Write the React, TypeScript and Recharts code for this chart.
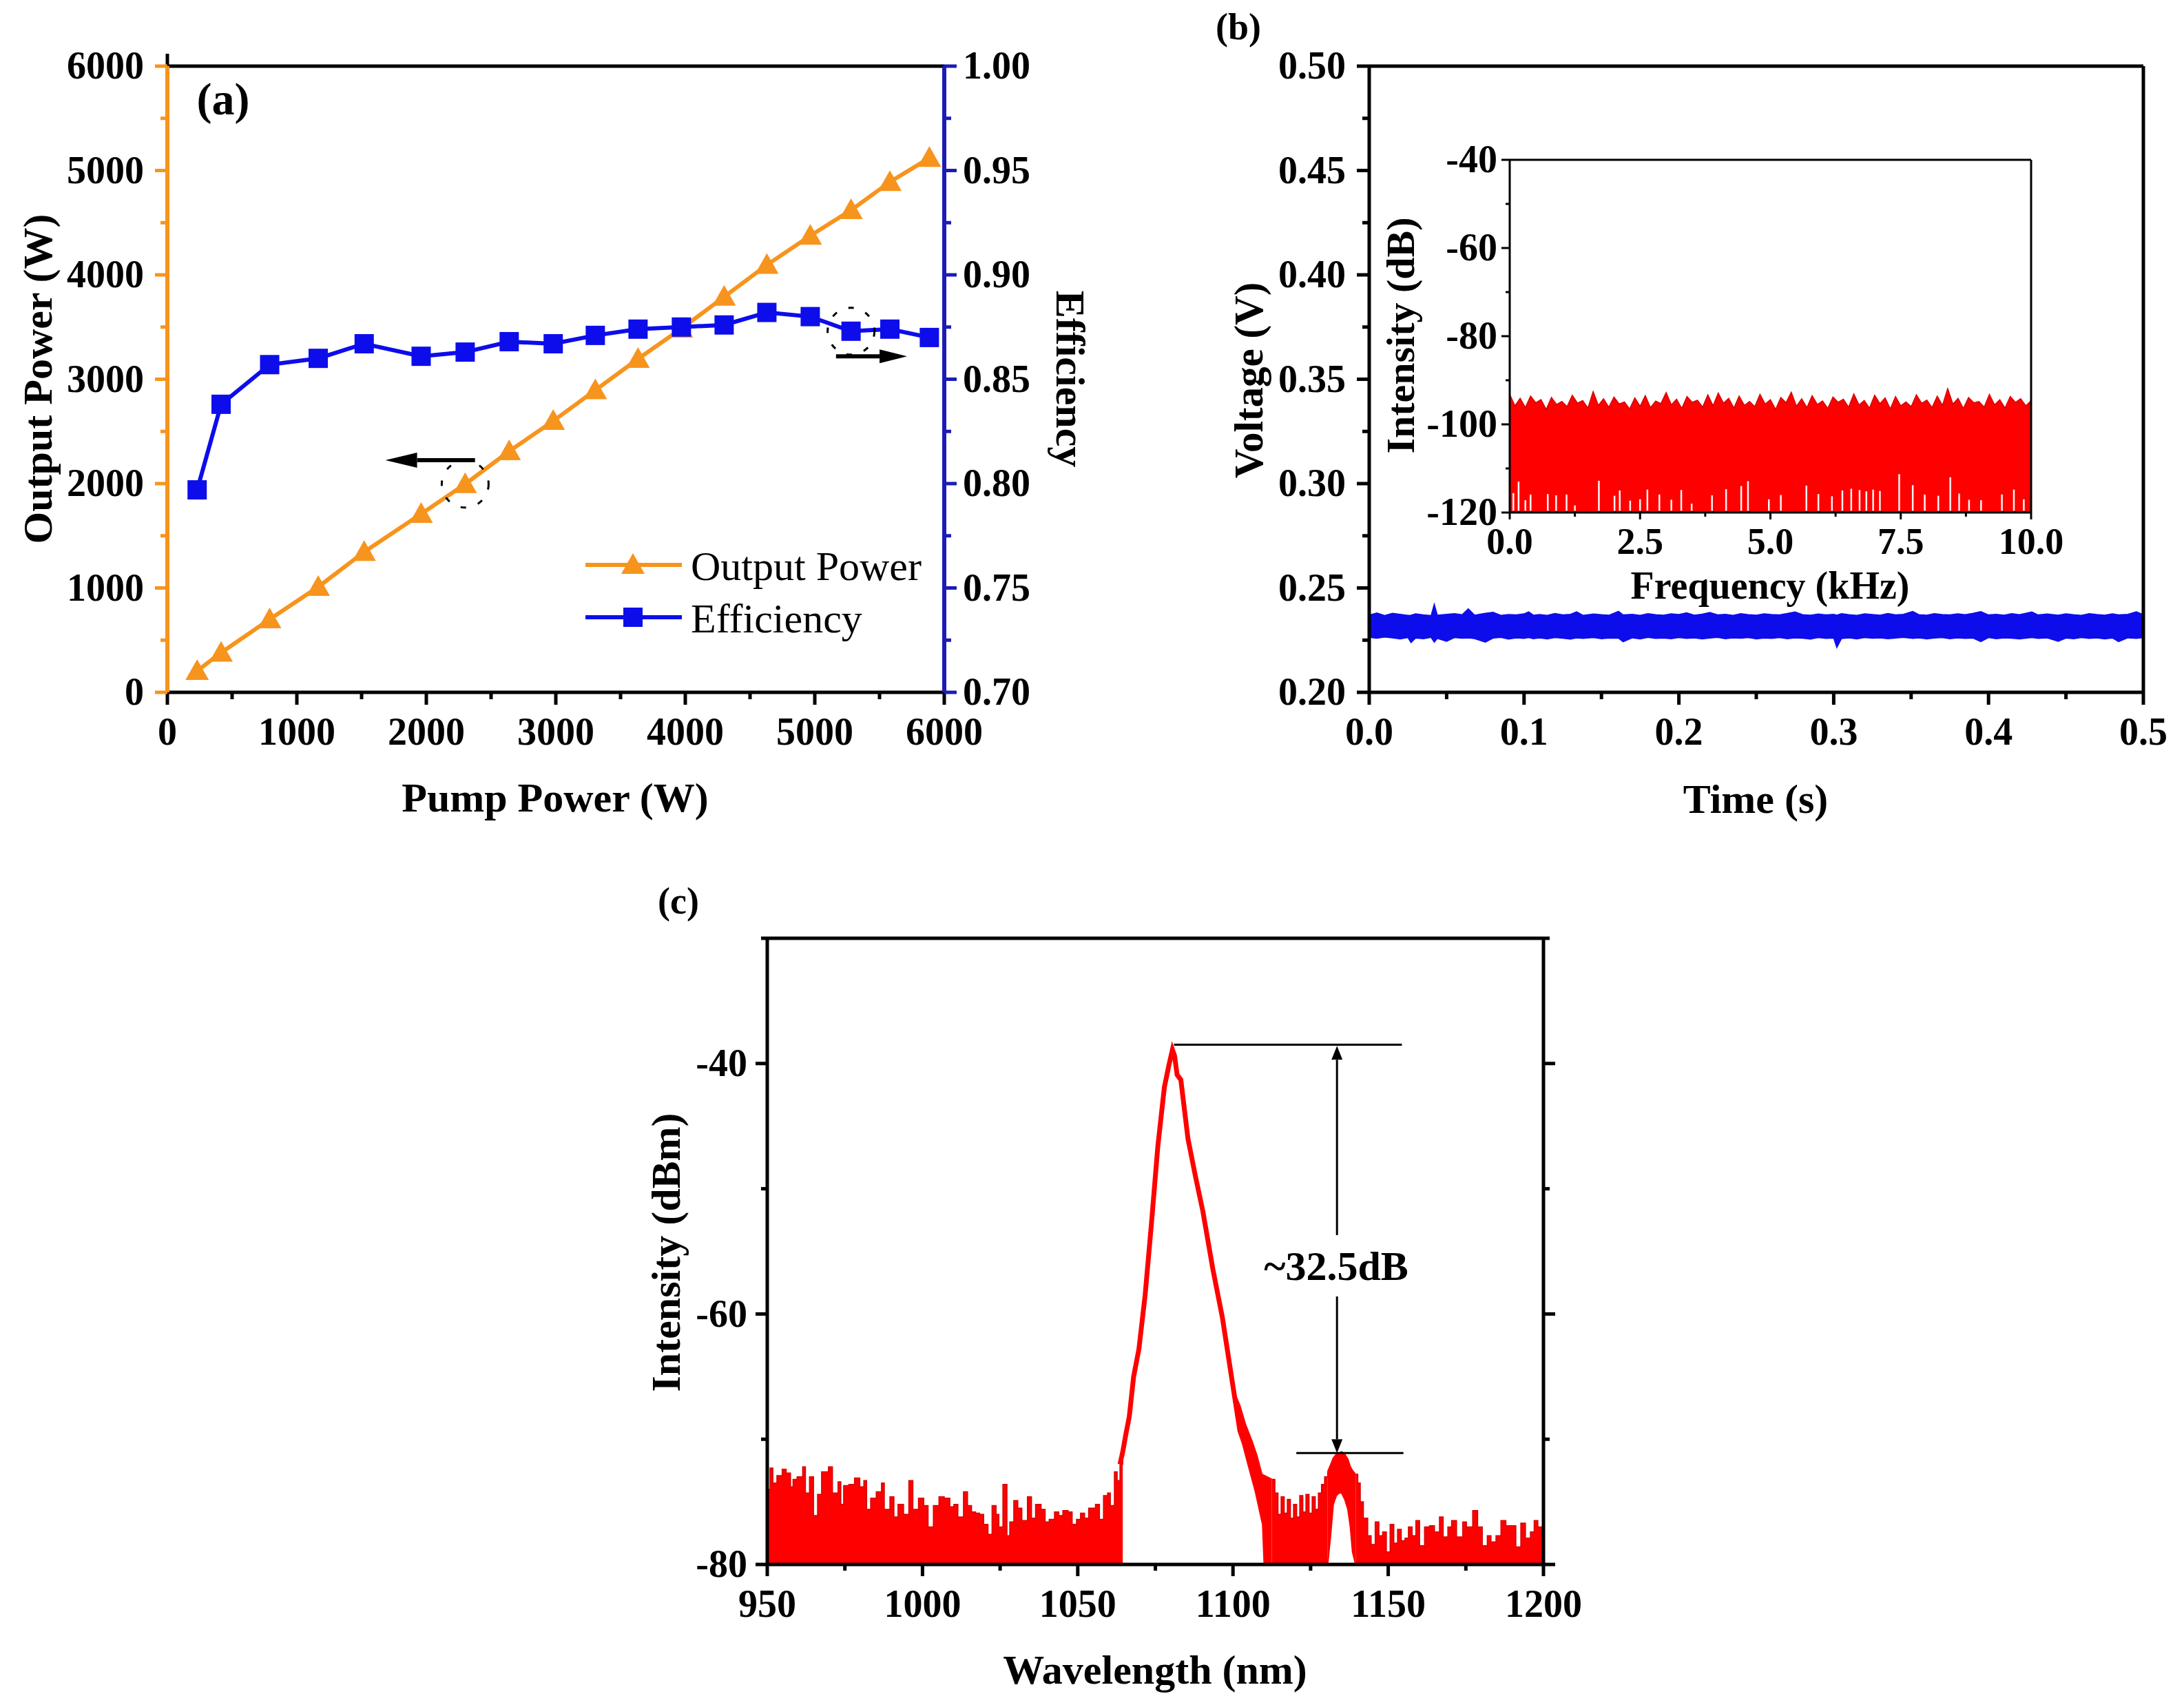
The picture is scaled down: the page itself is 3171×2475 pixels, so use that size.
import React from 'react';
import { ComposedChart, Line, Area, XAxis, YAxis, ReferenceLine, ReferenceDot, Legend } from 'recharts';

const FONT = "'Liberation Serif', 'Times New Roman', Times, serif";
const ORANGE = '#F7941D';
const BLUE = '#0D0DEB';
const AXIS_BLUE = '#1C1CB4';
const RED = '#FF0000';
const TICK_FS = 56;

// ---------------- Panel (a) ----------------
const pumpPower = [230, 415, 790, 1165, 1520, 1960, 2300, 2640, 2980, 3305, 3635, 3970, 4300, 4630, 4965, 5280, 5580, 5885];
const outputPower = [205, 380, 700, 1010, 1345, 1710, 1995, 2310, 2600, 2895, 3195, 3485, 3790, 4095, 4375, 4620, 4890, 5120];
const efficiency = [0.797, 0.838, 0.857, 0.86, 0.867, 0.861, 0.863, 0.868, 0.867, 0.871, 0.874, 0.875, 0.876, 0.882, 0.88, 0.873, 0.874, 0.87];
const pumpTicks = [0, 500, 1000, 1500, 2000, 2500, 3000, 3500, 4000, 4500, 5000, 5500, 6000];
const outputTicks = [0, 500, 1000, 1500, 2000, 2500, 3000, 3500, 4000, 4500, 5000, 5500, 6000];
const effTicks = [0.7, 0.725, 0.75, 0.775, 0.8, 0.825, 0.85, 0.875, 0.9, 0.925, 0.95, 0.975, 1.0];
const leftArrowPump = [2376, 1684];
const leftArrowOutput = 2224;
const rightArrowPump = [5164, 5713];
const rightArrowEff = 0.861;

// ---------------- Panel (b) ----------------
const bandTime = [0, 0.005, 0.01, 0.015, 0.02, 0.025, 0.027, 0.03, 0.035, 0.04,
  0.042, 0.044, 0.05, 0.055, 0.06, 0.064, 0.068, 0.075, 0.08, 0.085,
  0.09, 0.095, 0.1, 0.103, 0.106, 0.11, 0.115, 0.12, 0.125, 0.13,
  0.134, 0.138, 0.145, 0.15, 0.155, 0.161, 0.164, 0.17, 0.175, 0.18,
  0.185, 0.19, 0.195, 0.2, 0.205, 0.21, 0.215, 0.22, 0.225, 0.23,
  0.235, 0.24, 0.245, 0.25, 0.255, 0.26, 0.265, 0.27, 0.275, 0.28,
  0.285, 0.29, 0.295, 0.3, 0.302, 0.305, 0.31, 0.315, 0.32, 0.325,
  0.33, 0.335, 0.34, 0.345, 0.351, 0.355, 0.36, 0.365, 0.37, 0.375,
  0.38, 0.385, 0.39, 0.395, 0.4, 0.405, 0.41, 0.415, 0.42, 0.428,
  0.432, 0.438, 0.445, 0.45, 0.455, 0.46, 0.465, 0.47, 0.475, 0.48,
  0.484, 0.49, 0.4955, 0.5];
const bandLow = [0.2263, 0.2259, 0.2265, 0.2261, 0.2256, 0.2262, 0.2238, 0.2260, 0.2257, 0.2263,
  0.2240, 0.2258, 0.2244, 0.2262, 0.2259, 0.2261, 0.2257, 0.2240, 0.2260, 0.2263,
  0.2255, 0.2261, 0.2258, 0.2262, 0.2257, 0.2261, 0.2256, 0.2262, 0.2259, 0.2255,
  0.2261, 0.2258, 0.2262, 0.2257, 0.2260, 0.2259, 0.2242, 0.2261, 0.2256, 0.2263,
  0.2258, 0.2260, 0.2257, 0.2262, 0.2258, 0.2261, 0.2256, 0.2260, 0.2263, 0.2257,
  0.2261, 0.2259, 0.2262, 0.2256, 0.2260, 0.2258, 0.2262, 0.2257, 0.2261, 0.2259,
  0.2255, 0.2262, 0.2258, 0.2260, 0.2214, 0.2257, 0.2261, 0.2256, 0.2262, 0.2259,
  0.2261, 0.2257, 0.2260, 0.2263, 0.2258, 0.2261, 0.2256, 0.2260, 0.2262, 0.2257,
  0.2261, 0.2258, 0.2260, 0.2243, 0.2262, 0.2257, 0.2261, 0.2259, 0.2256, 0.2262,
  0.2258, 0.2261, 0.2244, 0.2260, 0.2257, 0.2262, 0.2258, 0.2261, 0.2256, 0.2260,
  0.2243, 0.2261, 0.2258, 0.2262];
const bandHigh = [0.2370, 0.2380, 0.2368, 0.2379, 0.2374, 0.2369, 0.2370, 0.2376, 0.2371, 0.2368,
  0.2422, 0.2370, 0.2374, 0.2377, 0.2372, 0.2400, 0.2370, 0.2379, 0.2384, 0.2369,
  0.2373, 0.2371, 0.2376, 0.2386, 0.2370, 0.2373, 0.2369, 0.2378, 0.2371, 0.2374,
  0.2386, 0.2369, 0.2375, 0.2372, 0.2370, 0.2388, 0.2371, 0.2374, 0.2369, 0.2377,
  0.2372, 0.2370, 0.2376, 0.2373, 0.2381, 0.2370, 0.2375, 0.2383, 0.2371, 0.2374,
  0.2369, 0.2377, 0.2372, 0.2370, 0.2376, 0.2373, 0.2371, 0.2378, 0.2385, 0.2372,
  0.2370, 0.2375, 0.2371, 0.2374, 0.2370, 0.2377, 0.2372, 0.2369, 0.2376, 0.2373,
  0.2370, 0.2378, 0.2371, 0.2374, 0.2388, 0.2372, 0.2370, 0.2377, 0.2373, 0.2371,
  0.2376, 0.2372, 0.2379, 0.2387, 0.2371, 0.2374, 0.2370, 0.2377, 0.2372, 0.2385,
  0.2371, 0.2375, 0.2370, 0.2376, 0.2372, 0.2369, 0.2377, 0.2373, 0.2370, 0.2376,
  0.2371, 0.2374, 0.2386, 0.2372];
const timeTicks = [0, 0.05, 0.1, 0.15, 0.2, 0.25, 0.3, 0.35, 0.4, 0.45, 0.5];
const voltTicks = [0.2, 0.225, 0.25, 0.275, 0.3, 0.325, 0.35, 0.375, 0.4, 0.425, 0.45, 0.475, 0.5];

// inset
const insetFreq = [0, 0.1, 0.2, 0.3, 0.4, 0.5, 0.6, 0.7, 0.8, 0.9,
  1, 1.1, 1.2, 1.3, 1.4, 1.5, 1.6, 1.7, 1.8, 1.9,
  2, 2.1, 2.2, 2.3, 2.4, 2.5, 2.6, 2.7, 2.8, 2.9,
  3, 3.1, 3.2, 3.3, 3.4, 3.5, 3.6, 3.7, 3.8, 3.9,
  4, 4.1, 4.2, 4.3, 4.4, 4.5, 4.6, 4.7, 4.8, 4.9,
  5, 5.1, 5.2, 5.3, 5.4, 5.5, 5.6, 5.7, 5.8, 5.9,
  6, 6.1, 6.2, 6.3, 6.4, 6.5, 6.6, 6.7, 6.8, 6.9,
  7, 7.1, 7.2, 7.3, 7.4, 7.5, 7.6, 7.7, 7.8, 7.9,
  8, 8.1, 8.2, 8.3, 8.4, 8.5, 8.6, 8.7, 8.8, 8.9,
  9, 9.1, 9.2, 9.3, 9.4, 9.5, 9.6, 9.7, 9.8, 9.9, 10];
const insetTop = [-93.2, -95.8, -94.1, -96.2, -93.6, -95.1, -94.4, -96.6, -93.9, -95.5,
  -94.8, -96.0, -93.4, -95.2, -94.6, -96.3, -92.6, -95.7, -94.2, -96.1,
  -93.8, -95.4, -94.9, -96.5, -94.0, -95.9, -93.5, -96.2, -94.7, -95.3,
  -92.8, -95.6, -94.3, -96.4, -93.7, -95.0, -94.5, -96.1, -93.3, -95.8,
  -92.9, -95.2, -94.1, -96.3, -93.6, -95.7, -94.8, -96.0, -93.2, -95.4,
  -94.4, -96.6, -93.9, -95.1, -92.7, -95.9, -94.2, -96.2, -93.5, -95.5,
  -94.7, -96.4, -93.8, -95.0, -94.3, -96.1, -93.1, -95.6, -94.6, -96.3,
  -93.4, -95.3, -94.0, -96.5, -93.7, -95.8, -94.9, -96.0, -93.3, -95.2,
  -94.5, -96.2, -93.6, -95.7, -91.9, -95.4, -94.1, -96.4, -93.9, -95.1,
  -94.8, -96.1, -93.2, -95.6, -94.4, -96.3, -93.7, -95.0, -94.2, -95.8, -94.6];
const dipFreq = [0.07, 0.17, 0.30, 0.40, 0.73, 0.89, 1.09, 1.25, 1.71, 2.01,
  2.11, 2.31, 2.50, 2.64, 2.87, 3.10, 3.29, 3.49, 3.88, 4.15,
  4.44, 4.57, 4.97, 5.20, 5.69, 5.92, 6.18, 6.38, 6.55, 6.71,
  6.84, 6.97, 7.10, 7.47, 7.73, 7.96, 8.22, 8.45, 8.62, 8.81,
  9.04, 9.44, 9.67, 9.86];
const dipLevel = [-115.6, -113.0, -117.2, -115.9, -115.8, -116.1, -115.9, -118.4, -112.8, -116.2,
  -115.0, -117.3, -117.0, -114.8, -115.9, -117.1, -114.9, -118.0, -116.1, -114.7,
  -114.0, -112.9, -117.0, -116.0, -113.9, -115.8, -116.3, -115.0, -114.6, -114.9,
  -115.2, -114.8, -115.1, -111.3, -113.8, -115.9, -116.2, -112.0, -115.7, -117.1,
  -117.2, -115.9, -114.8, -117.0];
const freqTicks = [0, 1.25, 2.5, 3.75, 5, 6.25, 7.5, 8.75, 10];
const dbTicks = [-120, -110, -100, -90, -80, -70, -60, -50, -40];

// ---------------- Panel (c) ----------------
const noise1Wl = [950, 950.9, 951.8, 953.1, 954.8, 956.1, 957.5, 958.3, 959.6, 961.4,
  962.3, 963.6, 964.9, 966.2, 967.5, 969.7, 971.0, 972.8, 973.7, 974.6,
  976.3, 978.1, 979.8, 981.1, 982.0, 983.3, 985.1, 986.8, 987.7, 989.5,
  990.8, 992.1, 993.9, 995.6, 996.9, 998.7, 1000.4, 1001.8, 1003.5, 1005.3,
  1007.0, 1008.8, 1010.1, 1011.4, 1013.2, 1014.5, 1015.8, 1017.1, 1018.4, 1019.7,
  1021.1, 1022.4, 1023.7, 1024.6, 1025.9, 1027.2, 1028.1, 1029.4, 1030.7, 1032.0,
  1033.8, 1035.1, 1036.4, 1038.2, 1039.5, 1040.8, 1042.5, 1043.9, 1045.2, 1046.9,
  1048.2, 1049.6, 1050.9, 1052.2, 1053.5, 1055.7, 1057.0, 1058.3, 1059.6, 1060.5,
  1061.8, 1062.7, 1063.6, 1064.5];
const noise1Top = [-74.0, -72.3, -73.5, -72.9, -72.4, -72.7, -73.8, -73.2, -73.0, -72.2,
  -74.3, -73.0, -76.1, -74.4, -72.6, -72.2, -74.3, -73.4, -75.2, -73.7,
  -73.6, -73.1, -73.8, -73.3, -75.6, -74.7, -74.2, -73.5, -75.6, -74.6,
  -76.2, -75.2, -76.0, -73.3, -75.6, -74.7, -75.3, -77.0, -75.3, -74.6,
  -74.7, -75.4, -75.2, -76.2, -74.2, -75.3, -75.8, -75.9, -76.0, -76.8,
  -77.6, -75.3, -76.0, -77.0, -73.6, -77.7, -76.6, -74.9, -75.5, -76.5,
  -74.6, -76.3, -75.2, -75.6, -76.6, -76.4, -75.8, -76.1, -75.7, -75.8,
  -76.8, -76.4, -75.9, -76.3, -75.5, -75.2, -76.4, -74.5, -74.3, -75.3,
  -72.6, -73.3, -72.0, -71.3];
const peakWl = [1063.6, 1064.5, 1065.5, 1066.6, 1068.0, 1069.7, 1071.7, 1073.8, 1075.8, 1077.9,
  1079.3, 1080.5, 1081.2, 1082.0, 1083.2, 1085.5, 1087.9, 1090.3, 1093.5, 1096.6,
  1099.7, 1102.2, 1103.7, 1105.3, 1107.7, 1110.1, 1110.6];
const peakLevel = [-72.0, -71.0, -69.6, -68.2, -65.0, -62.8, -58.5, -52.6, -46.6, -41.9,
  -40.2, -38.9, -39.4, -40.9, -41.3, -46.0, -49.0, -51.8, -56.4, -60.3,
  -65.3, -69.3, -70.4, -71.9, -74.1, -76.8, -80.0];
const tailWl = [1099.7, 1101.0, 1102.2, 1104.0, 1106.2, 1107.7, 1109.3, 1110.1, 1110.9, 1112.5];
const tailLow = [-65.3, -67.4, -69.3, -70.6, -72.7, -74.1, -76.0, -76.8, -80.0, -80.0];
const tailHigh = [-65.3, -66.6, -67.3, -68.8, -70.2, -71.3, -72.8, -72.9, -73.0, -73.2];
const noise2Wl = [1112.5, 1113.5, 1114.5, 1115.5, 1116.5, 1117.5, 1118.5, 1119.5, 1120.5, 1121.5,
  1122.5, 1123.5, 1124.5, 1125.5, 1126.5, 1127.5, 1128.5, 1129.5, 1130.5];
const noise2Top = [-73.2, -74.3, -76.0, -74.6, -75.9, -74.8, -76.3, -75.2, -76.2, -74.5,
  -75.8, -74.4, -75.9, -74.6, -75.6, -74.3, -73.6, -73.0, -72.6];
const side2Wl = [1130.5, 1131.5, 1132.3, 1133.3, 1134.2, 1135.0, 1136.0, 1137.0, 1137.8, 1138.5, 1139.5];
const side2Low = [-80, -77.5, -75.2, -74.5, -74.3, -74.3, -74.8, -75.6, -77.0, -79.0, -80];
const side2High = [-72.6, -72.0, -71.5, -71.2, -71.1, -71.0, -71.2, -71.6, -72.2, -72.5, -72.8];
const noise3Wl = [1139.5, 1140.2, 1141.0, 1142.0, 1143.4, 1144.5, 1145.8, 1147.0, 1148.2, 1149.4,
  1150.6, 1151.8, 1153.0, 1154.2, 1155.4, 1156.5, 1157.7, 1158.9, 1160.1, 1161.7,
  1163.3, 1164.9, 1166.5, 1167.7, 1169.2, 1170.4, 1172.0, 1174.0, 1175.2, 1177.2,
  1178.8, 1180.3, 1181.9, 1183.1, 1184.7, 1186.3, 1187.9, 1189.5, 1191.1, 1192.7,
  1194.2, 1195.8, 1197.0, 1198.2, 1199.4, 1200];
const noise3Top = [-72.8, -73.5, -75.0, -76.3, -77.7, -78.4, -76.6, -77.7, -77.4, -79.0,
  -76.8, -78.3, -77.2, -78.1, -77.9, -77.0, -77.7, -76.5, -78.5, -77.0,
  -76.9, -77.4, -76.2, -77.8, -77.0, -76.5, -77.8, -76.6, -77.0, -75.7,
  -77.0, -78.5, -77.7, -78.2, -77.7, -76.5, -76.9, -76.9, -78.6, -76.7,
  -77.9, -77.4, -76.5, -77.0, -77.8, -77.6];
const wlTicks = [950, 975, 1000, 1025, 1050, 1075, 1100, 1125, 1150, 1175, 1200];
const dbmTicks = [-80, -70, -60, -50, -40, -30];
const sidePeakTopLine = [1081, 1154.4];
const sidePeakTopLevel = -38.5;
const sidePeakLowLine = [1120.4, 1154.9];
const sidePeakLowLevel = -71.1;
const gapArrowWl = 1133.5;
const gapArrowUpper = [-53.7, -38.6];
const gapArrowLower = [-58.6, -71.1];

// ---------------- derived tables ----------------
const tableA = pumpPower.map((p, i) => ({ pump: p, out: outputPower[i], eff: efficiency[i] }));
const tableB = bandTime.map((t, i) => ({ t, band: [bandLow[i], bandHigh[i]] }));
const tableInset = insetFreq.map((f, i) => ({ f, top: insetTop[i] }));
const noise1 = noise1Wl.map((wl, i) => ({ wl, v: noise1Top[i] }));
const noise2 = noise2Wl.map((wl, i) => ({ wl, v: noise2Top[i] }));
const noise3 = noise3Wl.map((wl, i) => ({ wl, v: noise3Top[i] }));
const peakLine = peakWl.map((wl, i) => ({ wl, v: peakLevel[i] }));
const tail = tailWl.map((wl, i) => ({ wl, r: [tailLow[i], tailHigh[i]] }));
const side2 = side2Wl.map((wl, i) => ({ wl, r: [side2Low[i], side2High[i]] }));

// ---------------- helpers ----------------
type Side = 'left' | 'right' | 'bottom' | 'top';
function makeTick(side: Side, step: number, digits: number, margin: number,
  opts: { color?: string; major?: number; minor?: number; label?: boolean; sw?: number; fs?: number } = {}) {
  const color = opts.color ?? '#000';
  const major = opts.major ?? 18;
  const minor = opts.minor ?? 10;
  const showLabel = opts.label ?? true;
  const sw = opts.sw ?? 5;
  const fs = opts.fs ?? TICK_FS;
  return (props: any) => {
    const x = Number(props.x);
    const y = Number(props.y);
    const v = Number(props.payload?.value);
    const r = v / step;
    const isMajor = Math.abs(r - Math.round(r)) < 1e-6;
    const len = isMajor ? major : minor;
    const txt = v.toFixed(digits);
    const tp = { fontFamily: FONT, fontSize: fs, fontWeight: 700, fill: '#000', stroke: 'none' } as any;
    if (side === 'left') {
      const ax = x + margin;
      return (
        <g>
          <line x1={ax} y1={y} x2={ax - len} y2={y} stroke={color} strokeWidth={sw} />
          {isMajor && showLabel ? <text x={x} y={y + fs * 0.33} textAnchor="end" {...tp}>{txt}</text> : null}
        </g>
      );
    }
    if (side === 'right') {
      const ax = x - margin;
      return (
        <g>
          <line x1={ax} y1={y} x2={ax + len} y2={y} stroke={color} strokeWidth={sw} />
          {isMajor && showLabel ? <text x={x} y={y + fs * 0.33} textAnchor="start" {...tp}>{txt}</text> : null}
        </g>
      );
    }
    if (side === 'bottom') {
      const ay = y - margin;
      return (
        <g>
          <line x1={x} y1={ay} x2={x} y2={ay + len} stroke={color} strokeWidth={sw} />
          {isMajor && showLabel ? <text x={x} y={y + fs * 0.66} textAnchor="middle" {...tp}>{txt}</text> : null}
        </g>
      );
    }
    const ay = y + margin;
    return (
      <g>
        <line x1={x} y1={ay} x2={x} y2={ay - len} stroke={color} strokeWidth={sw} />
      </g>
    );
  };
}

function arrowShape(width: number, headLen: number, headHalf: number) {
  return (p: any) => {
    const x1 = Number(p.x1), y1 = Number(p.y1), x2 = Number(p.x2), y2 = Number(p.y2);
    if (![x1, y1, x2, y2].every(Number.isFinite)) return <g />;
    const dx = x2 - x1, dy = y2 - y1;
    const d = Math.hypot(dx, dy) || 1;
    const ux = dx / d, uy = dy / d;
    const hx = x2 - ux * headLen, hy = y2 - uy * headLen;
    return (
      <g>
        <line x1={x1} y1={y1} x2={hx} y2={hy} stroke="#000" strokeWidth={width} />
        <polygon points={`${x2},${y2} ${hx - uy * headHalf},${hy + ux * headHalf} ${hx + uy * headHalf},${hy - ux * headHalf}`} fill="#000" />
      </g>
    );
  };
}

const triangleDot = (p: any) => {
  const { cx, cy } = p;
  if (!Number.isFinite(cx) || !Number.isFinite(cy)) return <g key={p.index} />;
  return <polygon key={p.index} points={`${cx},${cy - 17} ${cx - 17},${cy + 13} ${cx + 17},${cy + 13}`} fill={ORANGE} />;
};
const squareDot = (p: any) => {
  const { cx, cy } = p;
  if (!Number.isFinite(cx) || !Number.isFinite(cy)) return <g key={p.index} />;
  return <rect key={p.index} x={cx - 14} y={cy - 14} width={28} height={28} fill={BLUE} />;
};

const LegendA = () => (
  <svg width={560} height={150} style={{ overflow: 'visible', display: 'block' }}>
    <line x1={5} y1={30} x2={145} y2={30} stroke={ORANGE} strokeWidth={6} />
    <polygon points="74,13 57,43 91,43" fill={ORANGE} />
    <text x={158} y={52} fontFamily={FONT} fontSize={60} fill="#000">Output Power</text>
    <line x1={5} y1={106} x2={145} y2={106} stroke={BLUE} strokeWidth={6} />
    <rect x={60} y={92} width={28} height={28} fill={BLUE} />
    <text x={158} y={128} fontFamily={FONT} fontSize={60} fill="#000">Efficiency</text>
  </svg>
);

const T = (props: any) => (
  <text fontFamily={FONT} fontWeight={700} fill="#000" textAnchor="middle" {...props} />
);

export default function App() {
  return (
    <div style={{ position: 'absolute', left: 0, top: 0, width: 3171, height: 2475, background: '#fff', overflow: 'hidden' }}>
      {/* Panel (a) */}
      <div style={{ position: 'absolute', left: 0, top: 0 }}>
        <ComposedChart width={1650} height={1250} data={tableA} margin={{ top: 95, right: 0, bottom: 0, left: 0 }}>
          <XAxis dataKey="pump" type="number" domain={[0, 6000]} ticks={pumpTicks} interval={0} height={245}
            tickSize={0} tickLine={false} tickMargin={39} tick={makeTick('bottom', 1000, 0, 39)}
            axisLine={{ stroke: '#000', strokeWidth: 5 }} allowDataOverflow />
          <XAxis xAxisId="top" orientation="top" type="number" domain={[0, 6000]} ticks={pumpTicks} interval={0} height={1}
            tickSize={0} tickLine={false} tickMargin={0} tick={makeTick('top', 1000, 0, 0, { label: false })}
            axisLine={{ stroke: '#000', strokeWidth: 5 }} allowDataOverflow />
          <YAxis yAxisId="left" type="number" domain={[0, 6000]} ticks={outputTicks} interval={0} width={243}
            tickSize={0} tickLine={false} tickMargin={34} tick={makeTick('left', 1000, 0, 34, { color: ORANGE })}
            axisLine={{ stroke: ORANGE, strokeWidth: 6 }} allowDataOverflow />
          <YAxis yAxisId="right" orientation="right" type="number" domain={[0.7, 1.0]} ticks={effTicks} interval={0} width={279}
            tickSize={0} tickLine={false} tickMargin={27} tick={makeTick('right', 0.05, 2, 27, { color: AXIS_BLUE })}
            axisLine={{ stroke: AXIS_BLUE, strokeWidth: 6 }} allowDataOverflow />
          <Line yAxisId="left" dataKey="out" stroke={ORANGE} strokeWidth={6} dot={triangleDot} activeDot={false} isAnimationActive={false} />
          <Line yAxisId="right" dataKey="eff" stroke={BLUE} strokeWidth={6} dot={squareDot} activeDot={false} isAnimationActive={false} />
          <ReferenceLine yAxisId="left" segment={[{ x: leftArrowPump[0], y: leftArrowOutput }, { x: leftArrowPump[1], y: leftArrowOutput }]}
            shape={arrowShape(6, 46, 11)} />
          <ReferenceLine yAxisId="right" segment={[{ x: rightArrowPump[0], y: rightArrowEff }, { x: rightArrowPump[1], y: rightArrowEff }]}
            shape={arrowShape(6, 40, 10)} />
          <ReferenceDot yAxisId="left" x={pumpPower[6]} y={outputPower[6]} r={34} fill="none" stroke="#000" strokeWidth={3} strokeDasharray="8 18" />
          <ReferenceDot yAxisId="right" x={pumpPower[15]} y={efficiency[15]} r={34} fill="none" stroke="#000" strokeWidth={3} strokeDasharray="8 18" />
          <Legend layout="vertical" align="center" verticalAlign="middle" content={LegendA}
            wrapperStyle={{ position: 'absolute', left: 845, top: 790, width: 560, height: 150 }} />
        </ComposedChart>
      </div>

      {/* Panel (b) */}
      <div style={{ position: 'absolute', left: 1700, top: 0 }}>
        <ComposedChart width={1471} height={1250} data={tableB} margin={{ top: 95, right: 0, bottom: 0, left: 0 }}>
          <Area dataKey="band" type="linear" stroke={BLUE} strokeWidth={1.5} fill={BLUE} fillOpacity={1} isAnimationActive={false} activeDot={false} />
          <XAxis dataKey="t" type="number" domain={[0, 0.5]} ticks={timeTicks} interval={0} height={245}
            tickSize={0} tickLine={false} tickMargin={39} tick={makeTick('bottom', 0.1, 1, 39)}
            axisLine={{ stroke: '#000', strokeWidth: 5 }} allowDataOverflow />
          <XAxis xAxisId="top" orientation="top" type="number" domain={[0, 0.5]} height={1} tick={false} tickLine={false}
            axisLine={{ stroke: '#000', strokeWidth: 5 }} allowDataOverflow />
          <YAxis type="number" domain={[0.2, 0.5]} ticks={voltTicks} interval={0} width={288}
            tickSize={0} tickLine={false} tickMargin={34} tick={makeTick('left', 0.05, 2, 34)}
            axisLine={{ stroke: '#000', strokeWidth: 5 }} allowDataOverflow />
          <YAxis yAxisId="right" orientation="right" type="number" domain={[0.2, 0.5]} width={59} tick={false} tickLine={false}
            axisLine={{ stroke: '#000', strokeWidth: 5 }} allowDataOverflow />
        </ComposedChart>
      </div>

      {/* Inset of (b) */}
      <div style={{ position: 'absolute', left: 1950, top: 200 }}>
        <ComposedChart width={1050} height={700} data={tableInset} margin={{ top: 31, right: 0, bottom: 0, left: 0 }}>
          <Area dataKey="top" type="linear" baseValue={-120} stroke="#D80000" strokeWidth={1.5} fill={RED} fillOpacity={1} isAnimationActive={false} activeDot={false} />
          {dipFreq.map((f, i) => (
            <ReferenceLine key={`dip${i}`} segment={[{ x: f, y: -119.6 }, { x: f, y: dipLevel[i] }]} stroke="#FFF4F4" strokeWidth={2.5} />
          ))}
          <XAxis dataKey="f" type="number" domain={[0, 10]} ticks={freqTicks} interval={0} height={156}
            tickSize={0} tickLine={false} tickMargin={24} tick={makeTick('bottom', 2.5, 1, 24, { major: 10, minor: 6, sw: 3, fs: 54 })}
            axisLine={{ stroke: '#000', strokeWidth: 3 }} allowDataOverflow />
          <XAxis xAxisId="top" orientation="top" type="number" domain={[0, 10]} height={1} tick={false} tickLine={false}
            axisLine={{ stroke: '#000', strokeWidth: 3 }} allowDataOverflow />
          <YAxis type="number" domain={[-120, -40]} ticks={dbTicks} interval={0} width={242}
            tickSize={0} tickLine={false} tickMargin={18} tick={makeTick('left', 20, 0, 18, { major: 12, minor: 6, sw: 3 })}
            axisLine={{ stroke: '#000', strokeWidth: 3 }} allowDataOverflow />
          <YAxis yAxisId="right" orientation="right" type="number" domain={[-120, -40]} width={51} tick={false} tickLine={false}
            axisLine={{ stroke: '#000', strokeWidth: 3 }} allowDataOverflow />
        </ComposedChart>
      </div>

      {/* Panel (c) */}
      <div style={{ position: 'absolute', left: 850, top: 1250 }}>
        <ComposedChart width={1500} height={1225} margin={{ top: 111, right: 0, bottom: 0, left: 0 }}>
          <Area data={noise1} dataKey="v" type="stepAfter" baseValue={-80} stroke="#D80000" strokeWidth={1.5} fill={RED} fillOpacity={1} isAnimationActive={false} activeDot={false} />
          <Area data={noise2} dataKey="v" type="stepAfter" baseValue={-80} stroke="#D80000" strokeWidth={1.5} fill={RED} fillOpacity={1} isAnimationActive={false} activeDot={false} />
          <Area data={noise3} dataKey="v" type="stepAfter" baseValue={-80} stroke="#D80000" strokeWidth={1.5} fill={RED} fillOpacity={1} isAnimationActive={false} activeDot={false} />
          <Area data={tail} dataKey="r" type="linear" stroke={RED} strokeWidth={2} fill={RED} fillOpacity={1} isAnimationActive={false} activeDot={false} />
          <Area data={side2} dataKey="r" type="linear" stroke={RED} strokeWidth={2} fill={RED} fillOpacity={1} isAnimationActive={false} activeDot={false} />
          <Line data={peakLine} dataKey="v" type="linear" stroke={RED} strokeWidth={7} dot={false} activeDot={false} isAnimationActive={false} />
          <ReferenceLine segment={[{ x: sidePeakTopLine[0], y: sidePeakTopLevel }, { x: sidePeakTopLine[1], y: sidePeakTopLevel }]} stroke="#000" strokeWidth={3} />
          <ReferenceLine segment={[{ x: sidePeakLowLine[0], y: sidePeakLowLevel }, { x: sidePeakLowLine[1], y: sidePeakLowLevel }]} stroke="#000" strokeWidth={3} />
          <ReferenceLine segment={[{ x: gapArrowWl, y: gapArrowUpper[0] }, { x: gapArrowWl, y: gapArrowUpper[1] }]} shape={arrowShape(3, 20, 8)} />
          <ReferenceLine segment={[{ x: gapArrowWl, y: gapArrowLower[0] }, { x: gapArrowWl, y: gapArrowLower[1] }]} shape={arrowShape(3, 20, 8)} />
          <XAxis dataKey="wl" type="number" domain={[950, 1200]} ticks={wlTicks} interval={0} height={204}
            tickSize={0} tickLine={false} tickMargin={39} tick={makeTick('bottom', 50, 0, 39, { major: 17, minor: 9 })}
            axisLine={{ stroke: '#000', strokeWidth: 5 }} allowDataOverflow />
          <XAxis xAxisId="top" orientation="top" type="number" domain={[950, 1200]} ticks={wlTicks} interval={0} height={1}
            tickSize={0} tickLine={false} tickMargin={0} tick={makeTick('top', 50, 0, 0, { major: 17, minor: 9, label: false })}
            axisLine={{ stroke: '#000', strokeWidth: 5 }} allowDataOverflow />
          <YAxis type="number" domain={[-80, -30]} ticks={dbmTicks} interval={0} width={264}
            tickSize={0} tickLine={false} tickMargin={29} tick={makeTick('left', 20, 0, 29, { major: 17, minor: 9 })}
            axisLine={{ stroke: '#000', strokeWidth: 5 }} allowDataOverflow />
          <YAxis yAxisId="right" orientation="right" type="number" domain={[-80, -30]} ticks={dbmTicks} interval={0} width={109}
            tickSize={0} tickLine={false} tickMargin={0} tick={makeTick('right', 20, 0, 0, { major: 17, minor: 9, label: false })}
            axisLine={{ stroke: '#000', strokeWidth: 5 }} allowDataOverflow />
        </ComposedChart>
      </div>

      {/* Titles and panel labels */}
      <svg width={3171} height={2475} style={{ position: 'absolute', left: 0, top: 0, pointerEvents: 'none' }}>
        <T x={324} y={166} fontSize={66}>(a)</T>
        <T transform="translate(55,550) rotate(-90)" dominantBaseline="central" fontSize={60}>Output Power (W)</T>
        <T transform="translate(1554,550) rotate(90)" dominantBaseline="central" fontSize={60}>Efficiency</T>
        <T x={806} y={1178} fontSize={60}>Pump Power (W)</T>

        <T x={1798} y={57} fontSize={54}>(b)</T>
        <T transform="translate(1813,552) rotate(-90)" dominantBaseline="central" fontSize={59}>Voltage (V)</T>
        <T x={2549} y={1180} fontSize={60}>Time (s)</T>
        <T transform="translate(2033,487) rotate(-90)" dominantBaseline="central" fontSize={58}>Intensity (dB)</T>
        <T x={2570} y={869} fontSize={56}>Frequency (kHz)</T>

        <T x={985} y={1326} fontSize={54}>(c)</T>
        <T transform="translate(967,1818) rotate(-90)" dominantBaseline="central" fontSize={60}>Intensity (dBm)</T>
        <T x={1677} y={2444} fontSize={60}>Wavelength (nm)</T>
        <T x={1940} y={1858} fontSize={60}>~32.5dB</T>
      </svg>
    </div>
  );
}
